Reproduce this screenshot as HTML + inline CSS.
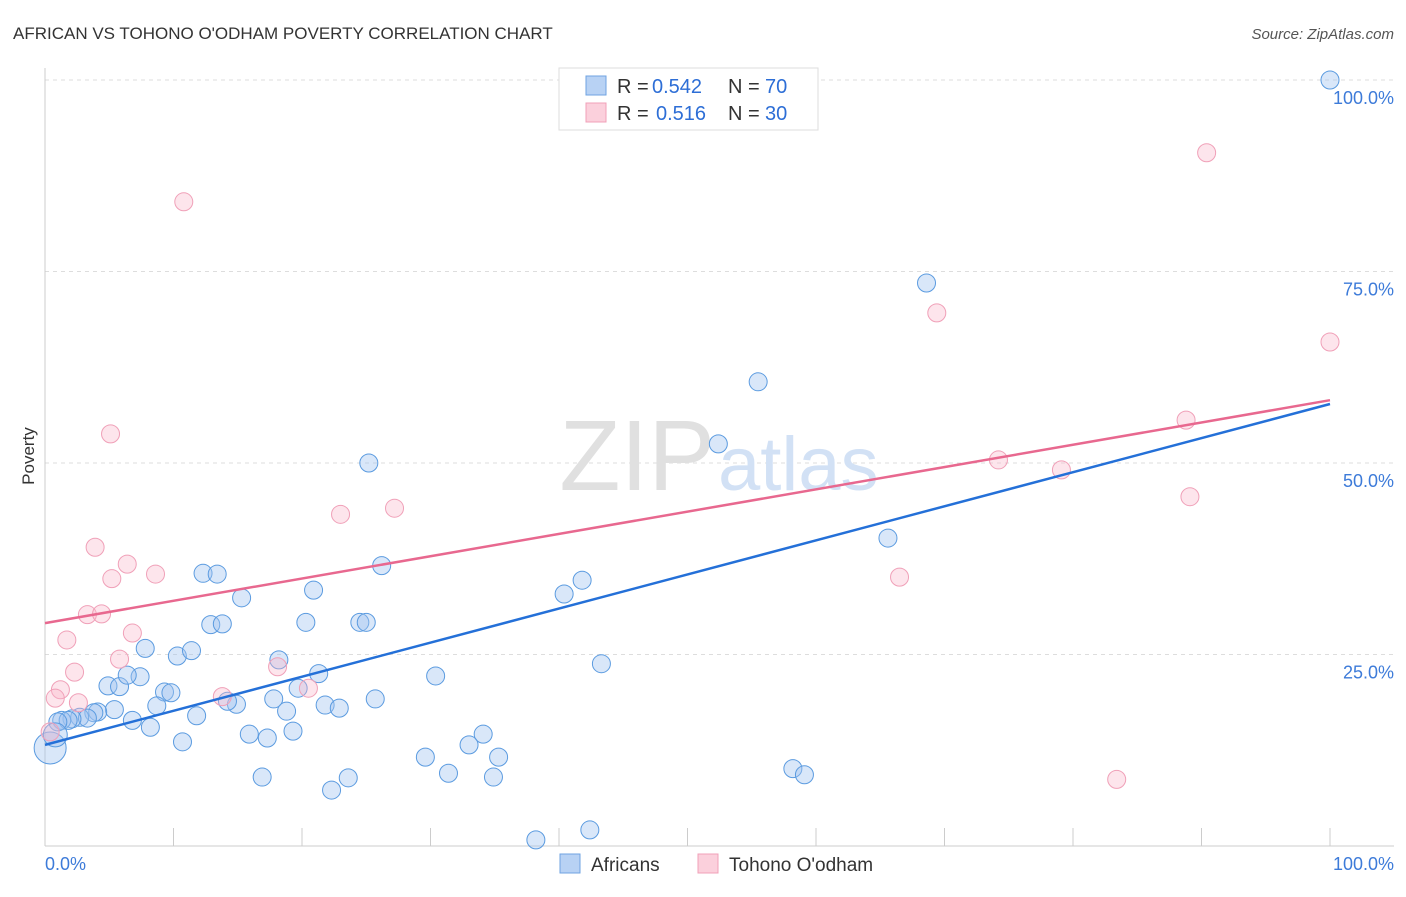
<!DOCTYPE html>
<html><head><meta charset="utf-8"><style>
body{margin:0;background:#fff;font-family:"Liberation Sans",sans-serif}
svg text{font-family:"Liberation Sans",sans-serif}
</style></head><body>
<svg id="c" width="1406" height="892">
<text x="13" y="39" font-size="17" fill="#333">AFRICAN VS TOHONO O'ODHAM POVERTY CORRELATION CHART</text>
<text x="1394" y="39" font-size="15" fill="#555" font-style="italic" text-anchor="end">Source: ZipAtlas.com</text>
<text x="34" y="456" font-size="17" fill="#333" transform="rotate(-90 34 456)" text-anchor="middle">Poverty</text>
<g id="grid"></g>
<text x="715" y="490" font-size="100" fill="#e0e0e0" text-anchor="end" font-family="Liberation Serif">ZIP</text>
<text x="718" y="490" font-size="76" fill="#d2e1f5">atlas</text>
<g id="pts"></g>
<g id="lines"></g>
<g>
<rect x="559" y="68" width="259" height="62" fill="#fff" stroke="#ddd"/>
<rect x="586" y="76" width="20" height="19" fill="#b8d2f4" stroke="#6fa3e2"/>
<rect x="586" y="103" width="20" height="19" fill="#fbd0dc" stroke="#f0a0b8"/>
<text x="617" y="93" font-size="20" fill="#333">R =</text>
<text x="652" y="93" font-size="20" fill="#2d6ed6">0.542</text>
<text x="728" y="93" font-size="20" fill="#333">N =</text>
<text x="765" y="93" font-size="20" fill="#2d6ed6">70</text>
<text x="617" y="120" font-size="20" fill="#333">R =</text>
<text x="656" y="120" font-size="20" fill="#2d6ed6">0.516</text>
<text x="728" y="120" font-size="20" fill="#333">N =</text>
<text x="765" y="120" font-size="20" fill="#2d6ed6">30</text>
</g>
<g>
<rect x="560" y="854" width="20" height="19" fill="#b8d2f4" stroke="#6fa3e2"/>
<text x="591" y="871" font-size="19" fill="#333">Africans</text>
<rect x="698" y="854" width="20" height="19" fill="#fbd0dc" stroke="#f0a0b8"/>
<text x="729" y="871" font-size="19" fill="#333">Tohono O'odham</text>
</g>
<text x="45" y="870" font-size="18" fill="#3d7bd9">0.0%</text>
<text x="1394" y="870" font-size="18" fill="#3d7bd9" text-anchor="end">100.0%</text>
</svg>
<script>
const yTicks=[25,50,75,100];
const yTickLabels=["25.0%","50.0%","75.0%","100.0%"];
const africansX=[100,68.6,55.5,52.4,25.2,65.6,41.8,40.4,26.2,20.9,12.3,13.4,15.3,12.9,13.8,20.3,24.5,25.0,7.8,10.3,11.4,43.3,18.2,21.3,30.4,4.9,5.8,7.4,6.4,9.3,9.8,17.8,19.7,25.7,8.7,14.9,14.2,18.8,21.8,22.9,5.4,4.1,3.8,2.7,3.3,2.1,1.3,1.8,1.0,6.8,8.2,11.8,15.9,17.3,19.3,10.7,34.1,33.0,35.3,29.6,31.4,34.9,23.6,16.9,22.3,58.2,59.1,38.2,42.4,0.4,0.8];
const africansY=[100,73.5,60.6,52.5,50.0,40.2,34.7,32.9,36.6,33.4,35.6,35.5,32.4,28.9,29.0,29.2,29.2,29.2,25.8,24.8,25.5,23.8,24.3,22.5,22.2,20.9,20.8,22.1,22.3,20.1,20.0,19.2,20.6,19.2,18.3,18.5,18.9,17.6,18.4,18.0,17.8,17.5,17.4,16.8,16.7,16.6,16.4,16.4,16.2,16.4,15.5,17.0,14.6,14.1,15.0,13.6,14.6,13.2,11.6,11.6,9.5,9.0,8.9,9.0,7.3,10.1,9.3,0.8,2.1,12.8,14.5];
const tohonoX=[90.4,10.8,69.4,100,88.8,5.1,74.2,79.1,23.0,27.2,89.1,3.9,6.4,8.6,5.2,66.5,3.3,4.4,6.8,1.7,5.8,18.1,2.3,20.5,1.2,13.8,2.6,0.8,83.4,0.4];
const tohonoY=[90.5,84.1,69.6,65.8,55.6,53.8,50.4,49.1,43.3,44.1,45.6,39.0,36.8,35.5,34.9,35.1,30.2,30.3,27.8,26.9,24.4,23.4,22.7,20.6,20.4,19.5,18.7,19.3,8.7,14.9];
const africansTrend=[13.2,57.7];
const tohonoTrend=[29.1,58.2];
const NS="http://www.w3.org/2000/svg";
const X=v=>45+v*12.85, Y=v=>846-v*7.66;
function mk(t,a,p){const e=document.createElementNS(NS,t);for(const k in a)e.setAttribute(k,a[k]);p.appendChild(e);return e;}
const g=document.getElementById('grid');
yTicks.forEach((t,i)=>{
 const l=mk('line',{x1:45,x2:1394,y1:Y(t),y2:Y(t),stroke:'#ddd','stroke-dasharray':'4,4'},g);
 
 
 const tx=mk('text',{x:1394,y:Y(t)+24,'font-size':18,fill:'#3d7bd9','text-anchor':'end'},g);
 tx.textContent=yTickLabels[i];
 
 
});
const ax=mk('line',{x1:45,x2:45,y1:68,y2:846,stroke:'#ccc'},g);


const bx=mk('line',{x1:45,x2:1394,y1:846,y2:846,stroke:'#ccc'},g);


for(let i=0;i<=10;i++){
 const t=mk('line',{x1:X(i*10),x2:X(i*10),y1:828,y2:846,stroke:'#ccc'},g);
 
 
}
const p=document.getElementById('pts');
africansX.forEach((x,i)=>{
 const r=i==africansX.length-2?16:(i==africansX.length-1?12:9);
 const c=mk('circle',{cx:X(x),cy:Y(africansY[i]),r:r,fill:'rgba(160,196,240,0.4)',stroke:'#5b9be0','stroke-width':1},p);
 
 
});
tohonoX.forEach((x,i)=>{
 const c=mk('circle',{cx:X(x),cy:Y(tohonoY[i]),r:9,fill:'rgba(248,180,200,0.35)',stroke:'#f0a0b8','stroke-width':1},p);
 
 
});
const L=document.getElementById('lines');
const l1=mk('line',{x1:X(0),x2:X(100),y1:Y(tohonoTrend[0]),y2:Y(tohonoTrend[1]),stroke:'#e8688f','stroke-width':2.5},L);


const l2=mk('line',{x1:X(0),x2:X(100),y1:Y(africansTrend[0]),y2:Y(africansTrend[1]),stroke:'#2470d8','stroke-width':2.5},L);


</script>
</body></html>
